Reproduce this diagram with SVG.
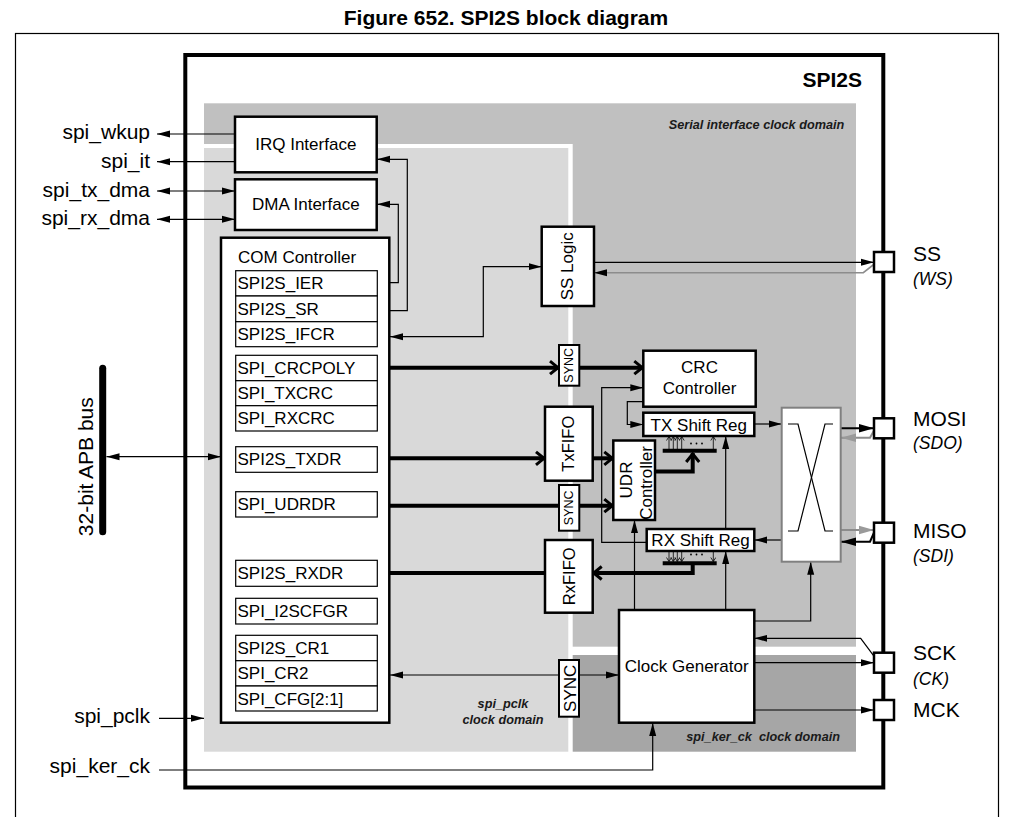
<svg xmlns="http://www.w3.org/2000/svg" width="1016" height="817" viewBox="0 0 1016 817">
<style>
text{font-family:"Liberation Sans",Arial,sans-serif;fill:#000}
.t{font-size:17px}
.tc{font-size:17px;text-anchor:middle}
.big{font-size:21px}
.lbl{font-size:21px;text-anchor:end}
.it{font-size:17.5px;font-style:italic}
.dom{font-size:12.7px;font-weight:bold;font-style:italic;fill:#1a1a1a}
.box{fill:#fff;stroke:#000;stroke-width:2.5}
.reg{fill:#fff;stroke:#000;stroke-width:1.2}
.ln{fill:none;stroke:#000;stroke-width:1.2}
.gl{fill:none;stroke:#8c8c8c;stroke-width:1.6}
.th{fill:none;stroke:#000;stroke-width:4}
.fan{fill:none;stroke:#000;stroke-width:0.8}
.dot{fill:#000}
</style>
<defs>
<marker id="a" markerUnits="userSpaceOnUse" markerWidth="14" markerHeight="8" refX="13" refY="4" orient="auto-start-reverse"><path d="M0,0.5 L13,4 L0,7.5 z" fill="#000"/></marker>
<marker id="ab" markerUnits="userSpaceOnUse" markerWidth="16" markerHeight="10" refX="15" refY="5" orient="auto"><path d="M0,0.8 L15,5 L0,9.2 z" fill="#000"/></marker>
<marker id="ag" markerUnits="userSpaceOnUse" markerWidth="16" markerHeight="10" refX="15" refY="5" orient="auto"><path d="M0,0.8 L15,5 L0,9.2 z" fill="#9a9a9a"/></marker>
<marker id="c" markerUnits="userSpaceOnUse" markerWidth="14" markerHeight="16" refX="11" refY="8" orient="auto"><path d="M2,1.5 L10,8 L2,14.5" fill="none" stroke="#000" stroke-width="3"/></marker>
<marker id="s" markerUnits="userSpaceOnUse" markerWidth="6" markerHeight="6" refX="4.5" refY="3" orient="auto"><path d="M0.5,0.5 L4.5,3 L0.5,5.5" fill="none" stroke="#000" stroke-width="0.8"/></marker>
</defs>

<g id="frame">
<rect x="15.5" y="33.5" width="983" height="800" fill="#fff" stroke="#000" stroke-width="1.2"/>
<text x="506" y="25" text-anchor="middle" font-weight="bold" font-size="21">Figure 652. SPI2S block diagram</text>
<rect x="185.3" y="55" width="698" height="732.5" fill="#fff" stroke="#000" stroke-width="4"/>
<text x="862" y="86.7" text-anchor="end" font-weight="bold" font-size="21">SPI2S</text>
</g>

<g id="domains">
<rect x="204" y="103.3" width="652" height="543.4" fill="#c0c0c0"/>
<rect x="204" y="144" width="368.7" height="607.7" fill="#fff"/>
<rect x="204" y="148" width="364.3" height="603.7" fill="#d9d9d9"/>
<rect x="572.7" y="655" width="283.3" height="96.7" fill="#a6a6a6"/>
<text class="dom" x="844.3" y="129.3" text-anchor="end">Serial interface clock domain</text>
<text class="dom" x="503" y="708.3" text-anchor="middle">spi_pclk</text>
<text class="dom" x="503" y="724.3" text-anchor="middle">clock domain</text>
<text class="dom" x="840" y="740.7" text-anchor="end">spi_ker_ck&#160; clock domain</text>
</g>

<g id="connectors">
<path class="ln" d="M235,134 H157" marker-end="url(#a)"/>
<path class="ln" d="M235,161.7 H157" marker-end="url(#a)"/>
<path class="ln" d="M157,191 H235" marker-start="url(#a)" marker-end="url(#a)"/>
<path class="ln" d="M157,219.3 H235" marker-start="url(#a)" marker-end="url(#a)"/>
<path class="ln" d="M106.5,456.7 H221" marker-start="url(#a)" marker-end="url(#a)"/>
<path class="ln" d="M159,718.3 H204" marker-end="url(#a)"/>
<path class="ln" d="M159,770 H652.7 V723" marker-end="url(#a)"/>
<path class="ln" d="M389,282.7 H398.3 V204.3 H377" marker-end="url(#a)"/>
<path class="ln" d="M389,310.7 H407.3 V159.3 H377" marker-end="url(#a)"/>
<path class="ln" d="M390,336.7 H483.3 V266.7 H541.7" marker-start="url(#a)" marker-end="url(#a)"/>
<path class="ln" d="M594,262.3 H874" marker-end="url(#a)"/>
<path class="gl" d="M875,263.5 L863.3,272.7 H594" marker-end="url(#a)"/>
<path class="th" d="M377,367.7 H559" marker-end="url(#c)"/>
<path class="th" d="M579.3,367.7 H643.3" marker-end="url(#c)"/>
<path class="th" d="M377,458.3 H545" marker-end="url(#c)"/>
<path class="th" d="M592.7,458.3 H613.3" marker-end="url(#c)"/>
<path class="th" d="M377,505.7 H559"/>
<path class="th" d="M579.3,505.7 H613.3" marker-end="url(#c)"/>
<path class="th" d="M655,471.5 H692.7 V453" marker-end="url(#c)"/>
<path class="th" d="M662.7,450.7 H716.7"/>
<path class="th" d="M662.7,563.3 H716.7"/>
<path class="th" d="M692.7,563.3 V573 H592.7" marker-end="url(#c)"/>
<path class="th" d="M545,573 H377" marker-end="url(#c)"/>
<path class="fan" d="M669,449 V436.5" marker-end="url(#s)"/>
<path class="fan" d="M673.3,449 V436.5" marker-end="url(#s)"/>
<path class="fan" d="M677.3,449 V436.5" marker-end="url(#s)"/>
<path class="fan" d="M681.7,449 V436.5" marker-end="url(#s)"/>
<path class="fan" d="M713.3,449 V436.5" marker-end="url(#s)"/>
<path class="fan" d="M669,551.5 V561.5" marker-end="url(#s)"/>
<path class="fan" d="M673.3,551.5 V561.5" marker-end="url(#s)"/>
<path class="fan" d="M677.3,551.5 V561.5" marker-end="url(#s)"/>
<path class="fan" d="M681.7,551.5 V561.5" marker-end="url(#s)"/>
<path class="fan" d="M713.3,551.5 V561.5" marker-end="url(#s)"/>
<circle class="dot" cx="691" cy="443.5" r="0.9"/><circle class="dot" cx="696.5" cy="443.5" r="0.9"/><circle class="dot" cx="702" cy="443.5" r="0.9"/>
<circle class="dot" cx="691" cy="554.5" r="0.9"/><circle class="dot" cx="696.5" cy="554.5" r="0.9"/><circle class="dot" cx="702" cy="554.5" r="0.9"/>
<path class="ln" d="M646.7,542.3 H601.7 V387.7 H643.3" marker-end="url(#a)"/>
<path class="ln" d="M643.3,401.7 H627.3 V424.5 H643.3" marker-end="url(#a)"/>
<path class="ln" d="M754.3,424 H781.7" marker-end="url(#a)"/>
<path class="ln" d="M781.7,540 H754.3" marker-end="url(#a)"/>
<path class="ln" style="stroke-width:2" d="M840.7,428.3 H874" marker-end="url(#ab)"/>
<path class="gl" style="stroke-width:2" d="M874,430.5 L870,437.7 H841" marker-end="url(#ag)"/>
<path class="gl" style="stroke-width:2" d="M841,530 H874" marker-end="url(#ag)"/>
<path class="ln" style="stroke-width:2" d="M874.3,532 L870,541.7 H841" marker-end="url(#ab)"/>
<path class="ln" d="M634.5,610 V520" marker-end="url(#a)"/>
<path class="ln" d="M725.7,610 V551" marker-end="url(#a)"/>
<path class="ln" d="M725.7,529 V436" marker-end="url(#a)"/>
<path class="ln" d="M754.3,621 H810.7 V561.7" marker-end="url(#a)"/>
<path class="ln" d="M874.3,656.7 L860.7,638.3 H754.3" marker-end="url(#a)"/>
<path class="ln" d="M754.3,662.7 H874" marker-end="url(#a)"/>
<path class="ln" d="M754.3,710 H874" marker-end="url(#a)"/>
<path class="ln" d="M559,675 H390" marker-end="url(#a)"/>
<path class="ln" d="M579,675 H619" marker-end="url(#a)"/>
</g>

<g id="apb-bus">
<line x1="102.7" y1="368.3" x2="102.7" y2="531.7" stroke="#000" stroke-width="7" stroke-linecap="round"/>
<text class="big" text-anchor="middle" transform="translate(93.3,466.7) rotate(-90)">32-bit APB bus</text>
</g>

<g id="ext-labels">
<text class="lbl" x="150" y="139">spi_wkup</text>
<text class="lbl" x="150" y="168">spi_it</text>
<text class="lbl" x="150" y="197">spi_tx_dma</text>
<text class="lbl" x="150" y="225">spi_rx_dma</text>
<text class="lbl" x="150" y="723.3">spi_pclk</text>
<text class="lbl" x="150" y="773.3">spi_ker_ck</text>
</g>

<g id="irq"><rect class="box" x="235" y="116.7" width="141.7" height="55.6"/><text class="tc" x="305.8" y="150">IRQ Interface</text></g>
<g id="dma"><rect class="box" x="235" y="179.3" width="141.7" height="50.7"/><text class="tc" x="305.8" y="210">DMA Interface</text></g>

<g id="com">
<rect class="box" x="221" y="237.7" width="168.3" height="485"/>
<text class="t" x="238" y="262.7">COM Controller</text>
<rect class="reg" x="235.7" y="270.7" width="141.6" height="25.3"/><text class="t" x="237.5" y="289.4">SPI2S_IER</text>
<rect class="reg" x="235.7" y="296" width="141.6" height="25.7"/><text class="t" x="237.5" y="314.7">SPI2S_SR</text>
<rect class="reg" x="235.7" y="321.7" width="141.6" height="25"/><text class="t" x="237.5" y="340.4">SPI2S_IFCR</text>
<rect class="reg" x="235.7" y="355.3" width="141.6" height="25.4"/><text class="t" x="237.5" y="374">SPI_CRCPOLY</text>
<rect class="reg" x="235.7" y="380.7" width="141.6" height="25"/><text class="t" x="237.5" y="399.4">SPI_TXCRC</text>
<rect class="reg" x="235.7" y="405.7" width="141.6" height="25.3"/><text class="t" x="237.5" y="424.4">SPI_RXCRC</text>
<rect class="reg" x="235.7" y="446.7" width="141.6" height="25.6"/><text class="t" x="237.5" y="465.4">SPI2S_TXDR</text>
<rect class="reg" x="235.7" y="491.7" width="141.6" height="25.3"/><text class="t" x="237.5" y="510.4">SPI_UDRDR</text>
<rect class="reg" x="235.7" y="560.3" width="141.6" height="26"/><text class="t" x="237.5" y="579">SPI2S_RXDR</text>
<rect class="reg" x="235.7" y="598.3" width="141.6" height="25.7"/><text class="t" x="237.5" y="617">SPI_I2SCFGR</text>
<rect class="reg" x="235.7" y="635.3" width="141.6" height="25.4"/><text class="t" x="237.5" y="654">SPI2S_CR1</text>
<rect class="reg" x="235.7" y="660.7" width="141.6" height="25.3"/><text class="t" x="237.5" y="679.4">SPI_CR2</text>
<rect class="reg" x="235.7" y="686" width="141.6" height="25"/><text class="t" x="237.5" y="704.7">SPI_CFG[2:1]</text>
</g>

<g id="ss-logic"><rect class="box" x="541.7" y="226.7" width="52.3" height="79.3"/><text class="tc" transform="translate(573,266.3) rotate(-90)">SS Logic</text></g>
<g id="sync-crc"><rect class="box" style="stroke-width:2" x="559" y="345" width="20.3" height="40.7"/><text font-size="12.5" text-anchor="middle" transform="translate(572.7,365.3) rotate(-90)">SYNC</text></g>
<g id="txfifo"><rect class="box" x="545" y="406.7" width="47.7" height="74"/><text font-size="16.5" text-anchor="middle" transform="translate(573.5,443.7) rotate(-90)">TxFIFO</text></g>
<g id="sync-udr"><rect class="box" style="stroke-width:2" x="559" y="485" width="20.3" height="45.7"/><text font-size="12.5" text-anchor="middle" transform="translate(572.7,507.8) rotate(-90)">SYNC</text></g>
<g id="rxfifo"><rect class="box" x="545" y="540" width="47.7" height="72.7"/><text font-size="16.5" text-anchor="middle" transform="translate(575,576.3) rotate(-90)">RxFIFO</text></g>
<g id="sync-clk"><rect class="box" style="stroke-width:2" x="559" y="660" width="20" height="56.7"/><text class="tc" transform="translate(576,688.3) rotate(-90)">SYNC</text></g>
<g id="crc"><rect class="box" x="643.3" y="350.7" width="112.4" height="56"/><text class="tc" x="699.5" y="373.3">CRC</text><text class="tc" x="699.5" y="394.3">Controller</text></g>
<g id="tx-shift"><rect class="box" x="643.3" y="412.7" width="111" height="23.3"/><text class="tc" x="698.8" y="430.5">TX Shift Reg</text></g>
<g id="rx-shift"><rect class="box" x="646.7" y="529" width="107.6" height="22"/><text class="tc" x="700.5" y="546">RX Shift Reg</text></g>
<g id="udr"><rect class="box" x="613.3" y="440.5" width="41.7" height="79.5"/><text class="tc" transform="translate(631.5,480) rotate(-90)">UDR</text><text class="tc" transform="translate(651.5,483) rotate(-90)">Controller</text></g>
<g id="crossbar">
<rect x="781.7" y="407.7" width="59" height="154" fill="#fff" stroke="#808080" stroke-width="2"/>
<polyline class="ln" points="788,424 798,424 825,531 833,531"/>
<polyline class="ln" points="833,424 825,424 798,531 788,531"/>
</g>
<g id="clock-gen"><rect class="box" x="619" y="610" width="135.3" height="112.7"/><text class="tc" x="686.7" y="671.7">Clock Generator</text></g>

<g id="pin-ss"><rect class="box" x="874" y="252" width="20" height="20"/><text class="big" x="913" y="261">SS</text><text class="it" x="913" y="285">(WS)</text></g>
<g id="pin-mosi"><rect class="box" x="874" y="418.3" width="20" height="20"/><text class="big" x="913" y="426">MOSI</text><text class="it" x="913" y="448.5">(SDO)</text></g>
<g id="pin-miso"><rect class="box" x="874" y="522.7" width="20" height="20"/><text class="big" x="913" y="538.3">MISO</text><text class="it" x="913" y="561.7">(SDI)</text></g>
<g id="pin-sck"><rect class="box" x="874" y="652.7" width="20" height="20"/><text class="big" x="913" y="660">SCK</text><text class="it" x="913" y="685">(CK)</text></g>
<g id="pin-mck"><rect class="box" x="874" y="700" width="20" height="20"/><text class="big" x="913" y="716.7">MCK</text></g>
</svg>
